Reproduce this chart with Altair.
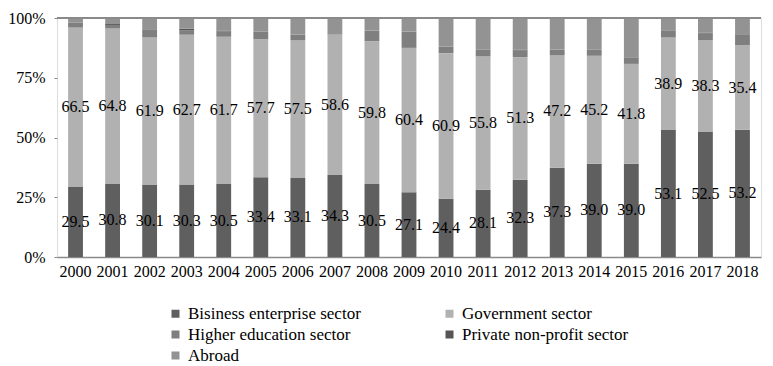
import altair as alt
import pandas as pd

years = [str(y) for y in range(2000, 2019)]
business = [29.5, 30.8, 30.1, 30.3, 30.5, 33.4, 33.1, 34.3, 30.5, 27.1, 24.4, 28.1, 32.3, 37.3, 39.0, 39.0, 53.1, 52.5, 53.2]
government = [66.5, 64.8, 61.9, 62.7, 61.7, 57.7, 57.5, 58.6, 59.8, 60.4, 60.9, 55.8, 51.3, 47.2, 45.2, 41.8, 38.9, 38.3, 35.4]
higher_ed = [2.0, 1.5, 3.0, 1.9, 2.3, 3.1, 2.5, 0.2, 4.4, 6.8, 2.7, 2.8, 2.8, 2.3, 2.5, 2.5, 2.6, 2.7, 4.3]
private_np = [0.0, 0.4, 0.0, 0.6, 0.3, 0.0, 0.0, 0.0, 0.0, 0.0, 0.0, 0.0, 0.4, 0.0, 0.0, 0.0, 0.0, 0.4, 0.0]
abroad = [2.0, 2.5, 5.0, 4.5, 5.2, 5.8, 6.9, 6.9, 5.3, 5.7, 12.0, 13.3, 13.2, 13.2, 13.3, 16.7, 5.4, 6.1, 7.1]

sectors = ["Bisiness enterprise sector", "Government sector", "Higher education sector",
           "Private non-profit sector", "Abroad"]
colors = ["#5f5f5f", "#b1b1b1", "#7f7f7f", "#555555", "#939393"]
series = [business, government, higher_ed, private_np, abroad]

# legend fills column by column: order entries so rows read Business/Government, Higher/Private, Abroad
legend_order = [0, 2, 4, 1, 3]
legend_domain = [sectors[i] for i in legend_order]
legend_range = [colors[i] for i in legend_order]

rows = []
for i, yr in enumerate(years):
    start = 0.0
    for k, (name, vals) in enumerate(zip(sectors, series)):
        v = vals[i]
        rows.append({"year": yr, "sector": name, "value": v, "order": k,
                     "start": start, "end": start + v, "mid": start + v / 2,
                     "label": f"{v:.1f}" if k < 2 else ""})
        start += v
df = pd.DataFrame(rows)

FONT = "'Liberation Serif', 'Times New Roman', serif"

xenc = alt.X("year:N", sort=years, title=None,
             scale=alt.Scale(paddingInner=0.6, paddingOuter=0.3),
             axis=alt.Axis(labelAngle=0, ticks=False, domainColor="#8a8a8a", domainWidth=1.5,
                           labelFont=FONT, labelFontSize=16, labelColor="#000", labelPadding=6))

bars = alt.Chart(df).mark_bar().encode(
    x=xenc,
    y=alt.Y("start:Q", scale=alt.Scale(domain=[0, 100]), title=None,
            axis=alt.Axis(values=[0, 25, 50, 75, 100], labelExpr="datum.value + '%'",
                          grid=False, domain=False, tickColor="#8a8a8a", tickSize=3,
                          labelFont=FONT, labelFontSize=16, labelColor="#000", labelPadding=9)),
    y2="end:Q",
    color=alt.Color("sector:N", sort=legend_domain,
                    scale=alt.Scale(domain=legend_domain, range=legend_range),
                    legend=alt.Legend(title=None, orient="none", legendX=110, legendY=287,
                                      columns=2, columnPadding=80, rowPadding=3,
                                      symbolType="square", symbolSize=64, symbolStrokeWidth=0,
                                      labelFont=FONT, labelFontSize=17, labelColor="#000",
                                      labelLimit=400, labelOffset=4)),
    order="order:Q",
)

top = alt.Chart(pd.DataFrame({"y": [100]})).mark_rule(color="#8a8a8a", strokeWidth=2).encode(
    y="y:Q")

labels = alt.Chart(df[df["order"] < 2]).mark_text(font=FONT, fontSize=16, color="#000").encode(
    x=alt.X("year:N", sort=years),
    y=alt.Y("mid:Q"),
    text="label:N",
)

chart = alt.layer(bars, top, labels).properties(
    width=704, height=239,
    autosize=alt.AutoSizeParams(type="none"),
    padding={"left": 49, "top": 10, "right": 4, "bottom": 110},
).configure_view(stroke=None).configure(background="white")

chart.save("out.html", embed_options={"renderer": "svg", "actions": False})
